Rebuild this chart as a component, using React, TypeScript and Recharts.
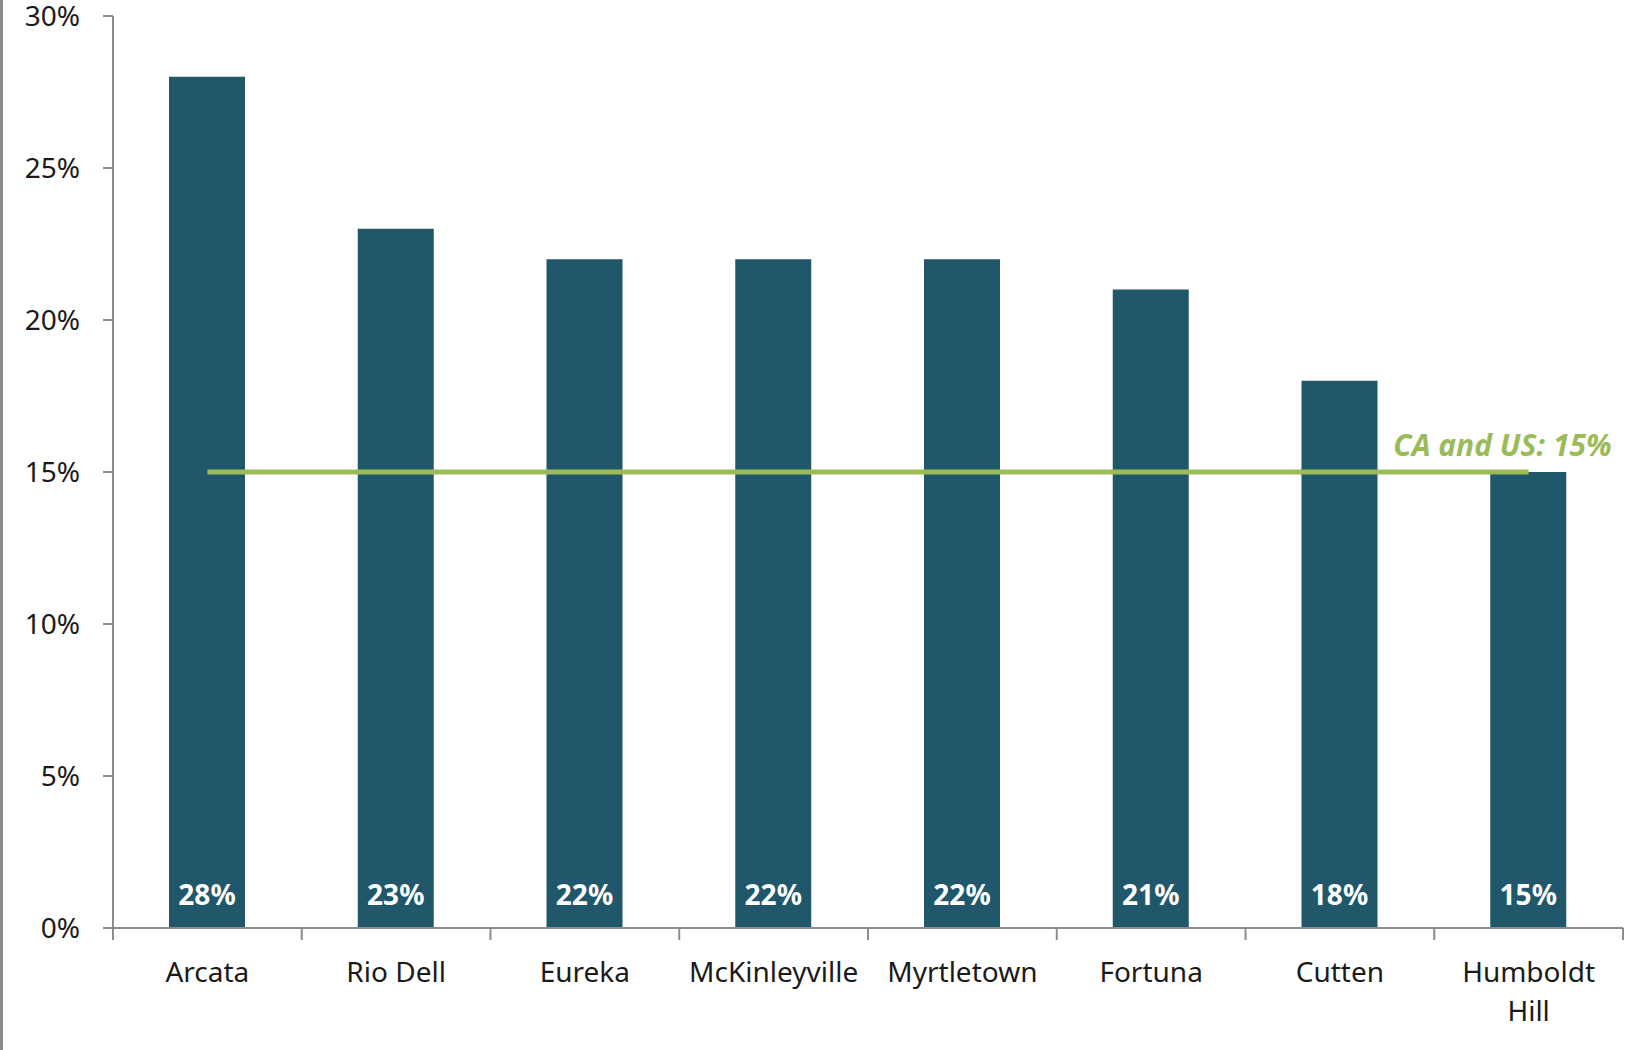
import React from 'react';
import { ComposedChart, Bar, Line, XAxis, YAxis, LabelList } from 'recharts';

const categories = ['Arcata', 'Rio Dell', 'Eureka', 'McKinleyville', 'Myrtletown', 'Fortuna', 'Cutten', 'Humboldt Hill'];
const tickLabels = [['Arcata'], ['Rio Dell'], ['Eureka'], ['McKinleyville'], ['Myrtletown'], ['Fortuna'], ['Cutten'], ['Humboldt', 'Hill']];
const shares = [28, 23, 22, 22, 22, 21, 18, 15];
const benchmark = [15, 15, 15, 15, 15, 15, 15, 15];
const benchmarkLabel = 'CA and US: 15%';
const yTicks = [0, 5, 10, 15, 20, 25, 30];

const data = categories.map((name, i) => ({ name, share: shares[i], bench: benchmark[i] }));

const FONT = '"Noto Sans", sans-serif';
const BAR_COLOR = '#21576A';
const GREEN = '#9BBB59';
const AXIS = '#8C8C8C';

const CategoryTick = (props: any) => {
  const { x, y, payload, index } = props;
  const half = payload && payload.offset ? payload.offset : 94.4;
  const last = index === categories.length - 1;
  const lines = tickLabels[index] || [String(payload.value)];
  return (
    <g>
      <line x1={x - half} x2={x - half} y1={y} y2={y + 12} stroke={AXIS} strokeWidth={2} />
      {last && <line x1={x + half} x2={x + half} y1={y} y2={y + 12} stroke={AXIS} strokeWidth={2} />}
      <text textAnchor="middle" fontSize={28} fontFamily={FONT} fill="#1a1a1a">
        {lines.map((t: string, i: number) => (
          <tspan key={i} x={x} y={y + 54 + i * 39}>
            {t}
          </tspan>
        ))}
      </text>
    </g>
  );
};

const BarValueLabel = (props: any) => {
  const { x, y, width, height, value } = props;
  return (
    <text
      x={x + width / 2}
      y={y + height - 23}
      textAnchor="middle"
      fontSize={28}
      fontWeight={700}
      fontFamily={FONT}
      fill="#ffffff"
    >
      {`${value}%`}
    </text>
  );
};

const BenchLabel = (props: any) => {
  const { x, y, index } = props;
  if (index !== benchmark.length - 1) return null;
  return (
    <text
      x={x + 83}
      y={y - 16}
      textAnchor="end"
      fontSize={30}
      fontWeight={700}
      fontStyle="italic"
      fontFamily={FONT}
      fill={GREEN}
    >
      {benchmarkLabel}
    </text>
  );
};

export default function App() {
  return (
    <div style={{ position: 'absolute', left: 0, top: 0, width: 1627, height: 1050, background: '#fff' }}>
      <div style={{ position: 'absolute', left: 0, top: 0, width: 3, height: 1050, background: '#8c8c8c' }} />
      <ComposedChart
        width={1627}
        height={1050}
        data={data}
        margin={{ top: 16, right: 4, bottom: 0, left: 0 }}
        barCategoryGap={0}
      >
        <XAxis
          dataKey="name"
          height={122}
          interval={0}
          tickLine={false}
          tickSize={0}
          tickMargin={0}
          axisLine={{ stroke: AXIS, strokeWidth: 2 }}
          tick={<CategoryTick />}
        />
        <YAxis
          width={113}
          domain={[0, 30]}
          ticks={yTicks}
          interval={0}
          tickSize={10}
          tickMargin={23}
          axisLine={{ stroke: AXIS, strokeWidth: 2 }}
          tickLine={{ stroke: AXIS, strokeWidth: 2 }}
          tickFormatter={(v: number) => `${v}%`}
          tick={{ fontSize: 28, fontFamily: FONT, fill: '#1a1a1a' }}
        />
        <Bar dataKey="share" fill={BAR_COLOR} barSize={76} isAnimationActive={false}>
          <LabelList dataKey="share" content={<BarValueLabel />} />
        </Bar>
        <Line
          dataKey="bench"
          stroke={GREEN}
          strokeWidth={5}
          dot={false}
          activeDot={false}
          isAnimationActive={false}
        >
          <LabelList dataKey="bench" content={<BenchLabel />} />
        </Line>
      </ComposedChart>
    </div>
  );
}
